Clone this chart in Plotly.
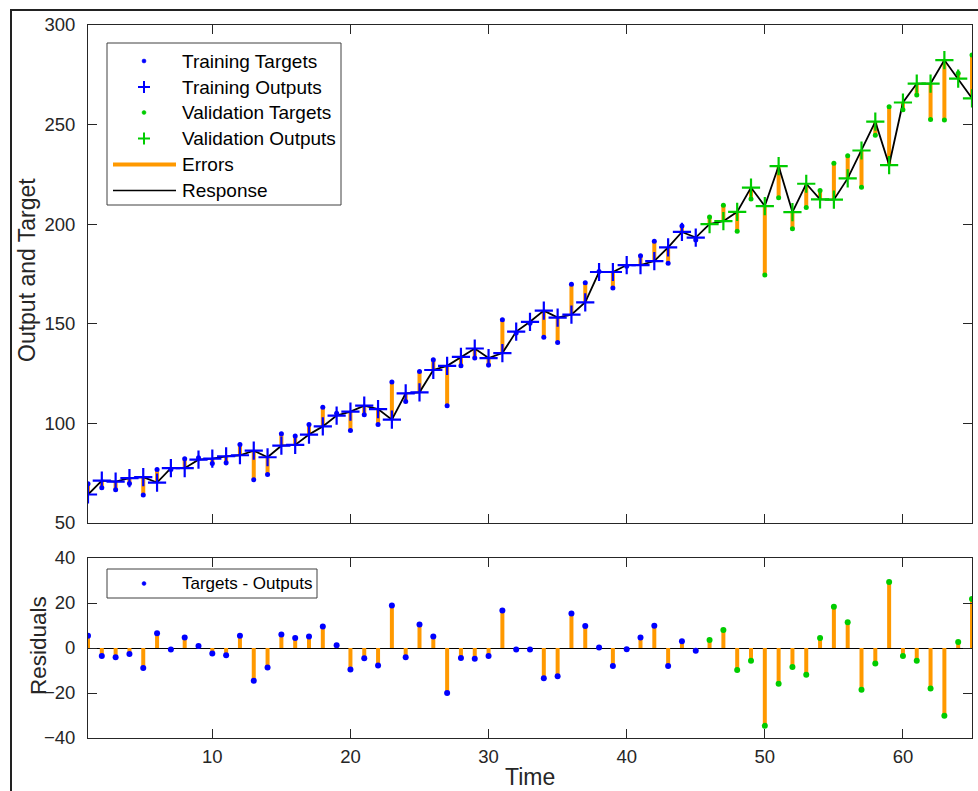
import plotly.graph_objects as go

# Time steps and network response
time = list(range(1, 66))
n_train = 45  # steps 1..45 are training, 46..65 validation

outputs = [
    64.3, 71.3, 70.8, 72.5, 73.0, 70.3, 77.5, 77.5, 81.8, 82.3,
    83.5, 84.0, 86.3, 83.0, 88.8, 89.2, 94.4, 98.5, 103.9, 105.9,
    108.9, 107.2, 101.9, 115.1, 115.6, 126.8, 128.9, 133.4, 137.6, 132.8,
    135.3, 146.1, 151.0, 156.6, 153.1, 154.6, 160.8, 176.0, 176.0, 179.5,
    179.5, 181.5, 188.4, 196.1, 193.3, 200.0, 201.5, 206.2, 218.4, 209.1,
    229.2, 206.1, 220.3, 212.5, 212.3, 223.0, 237.0, 251.5, 229.7, 261.1,
    270.6, 270.6, 282.4, 273.1, 263.2,
]
targets = [
    69.7, 67.7, 66.7, 69.8, 64.1, 76.9, 76.8, 82.2, 82.7, 79.9,
    80.3, 89.4, 71.7, 74.3, 94.8, 93.7, 99.5, 108.1, 105.1, 96.4,
    104.4, 99.4, 120.8, 111.0, 126.0, 131.9, 108.9, 129.0, 132.8, 129.3,
    152.0, 145.4, 150.3, 143.2, 140.6, 169.9, 170.6, 176.2, 168.0, 178.9,
    184.2, 191.4, 180.4, 199.1, 192.1, 203.6, 209.5, 196.4, 212.7, 174.5,
    213.3, 197.7, 208.4, 216.9, 230.6, 234.4, 218.5, 244.6, 259.0, 257.5,
    264.9, 252.6, 252.3, 275.8, 285.0,
]
residuals = [tg - o for tg, o in zip(targets, outputs)]

x_ticks = [10, 20, 30, 40, 50, 60]
y_ticks_top = [50, 100, 150, 200, 250, 300]
y_ticks_bot = [-40, -20, 0, 20, 40]

legend_top = ["Training Targets", "Training Outputs", "Validation Targets",
              "Validation Outputs", "Errors", "Response"]
legend_bot = ["Targets - Outputs"]

BLUE = "#0000FF"
GREEN = "#00CC00"
ORANGE = "#FF9900"
AX = "#262626"
FONT = "Liberation Sans, Arial, sans-serif"

W, H = 978, 791
ML, MR, MT, MB = 88, 6, 25, 53
PW, PH = W - ML - MR, H - MT - MB


def px_x(p):
    return (p - ML) / PW


def px_y(p):
    return (H - MB - p) / PH


TOP_DOM = [px_y(523), 1.0]
BOT_DOM = [0.0, px_y(558)]


def segments(xs, y0s, y1s):
    sx, sy = [], []
    for x, a, b in zip(xs, y0s, y1s):
        sx += [x, x, None]
        sy += [a, b, None]
    return sx, sy


fig = go.Figure()

t_tr, t_va = time[:n_train], time[n_train:]

# --- upper panel: outputs vs targets ---
ex, ey = segments(time, outputs, targets)
fig.add_trace(go.Scatter(x=ex, y=ey, mode="lines", name="Errors",
                         line=dict(color=ORANGE, width=4),
                         xaxis="x", yaxis="y"))
fig.add_trace(go.Scatter(x=time, y=outputs, mode="lines", name="Response",
                         line=dict(color="black", width=1.8),
                         xaxis="x", yaxis="y"))
fig.add_trace(go.Scatter(x=t_tr, y=targets[:n_train], mode="markers",
                         name="Training Targets",
                         marker=dict(color=BLUE, size=5),
                         xaxis="x", yaxis="y"))
fig.add_trace(go.Scatter(x=t_va, y=targets[n_train:], mode="markers",
                         name="Validation Targets",
                         marker=dict(color=GREEN, size=5),
                         xaxis="x", yaxis="y"))
fig.add_trace(go.Scatter(x=t_tr, y=outputs[:n_train], mode="markers",
                         name="Training Outputs",
                         marker=dict(symbol="cross-thin", size=13,
                                     line=dict(color=BLUE, width=2.2)),
                         xaxis="x", yaxis="y"))
fig.add_trace(go.Scatter(x=t_va, y=outputs[n_train:], mode="markers",
                         name="Validation Outputs",
                         marker=dict(symbol="cross-thin", size=13,
                                     line=dict(color=GREEN, width=2.2)),
                         xaxis="x", yaxis="y"))

# --- lower panel: residuals ---
rx, ry = segments(time, [0] * len(time), residuals)
fig.add_trace(go.Scatter(x=rx, y=ry, mode="lines", name="Residual bars",
                         line=dict(color=ORANGE, width=4),
                         xaxis="x2", yaxis="y2"))
fig.add_trace(go.Scatter(x=t_tr, y=residuals[:n_train], mode="markers",
                         name="Targets - Outputs",
                         marker=dict(color=BLUE, size=6),
                         xaxis="x2", yaxis="y2"))
fig.add_trace(go.Scatter(x=t_va, y=residuals[n_train:], mode="markers",
                         name="Targets - Outputs (validation)",
                         marker=dict(color=GREEN, size=6),
                         xaxis="x2", yaxis="y2"))

axis_common = dict(
    showgrid=False, showline=True, linecolor=AX, linewidth=1,
    mirror="ticks", ticks="inside", ticklen=9, tickwidth=1, tickcolor=AX,
    tickfont=dict(family=FONT, size=18.5, color=AX), zeroline=False,
)

fig.update_layout(
    width=W, height=H,
    margin=dict(l=ML, r=MR, t=MT, b=MB),
    paper_bgcolor="white", plot_bgcolor="white",
    font=dict(family=FONT, color=AX),
    showlegend=False,
    xaxis=dict(axis_common, domain=[0, 1], range=[1, 65], tickvals=x_ticks,
               showticklabels=False, anchor="y"),
    yaxis=dict(axis_common, domain=TOP_DOM, range=[50, 300],
               tickvals=y_ticks_top, anchor="x", ticklabelstandoff=8),
    xaxis2=dict(axis_common, domain=[0, 1], range=[1, 65], tickvals=x_ticks,
                anchor="y2", ticklabelstandoff=2),
    yaxis2=dict(axis_common, domain=BOT_DOM, range=[-40, 40],
                tickvals=y_ticks_bot, anchor="x2", ticklabelstandoff=8,
                zeroline=True, zerolinecolor="black", zerolinewidth=1.2),
)


def pshape(**kw):
    fig.add_shape(xref="paper", yref="paper", layer="above", **kw)


def legend_box(x0, y0, x1, y1):
    pshape(type="rect", x0=px_x(x0), x1=px_x(x1), y0=px_y(y0), y1=px_y(y1),
           line=dict(color="#404040", width=1), fillcolor="white")


def legend_dot(cx, cy, color, r=2):
    pshape(type="circle", x0=px_x(cx - r), x1=px_x(cx + r),
           y0=px_y(cy - r), y1=px_y(cy + r),
           line=dict(color=color, width=0.5), fillcolor=color)


def legend_plus(cx, cy, color, a=6):
    pshape(type="line", x0=px_x(cx - a), x1=px_x(cx + a), y0=px_y(cy), y1=px_y(cy),
           line=dict(color=color, width=2))
    pshape(type="line", x0=px_x(cx), x1=px_x(cx), y0=px_y(cy - a), y1=px_y(cy + a),
           line=dict(color=color, width=2))


def legend_line(cy, color, width):
    pshape(type="line", x0=px_x(113), x1=px_x(176), y0=px_y(cy), y1=px_y(cy),
           line=dict(color=color, width=width))


def legend_text(text, cy, size):
    fig.add_annotation(text=text, xref="paper", yref="paper",
                       x=px_x(180), y=px_y(cy), xanchor="left", yanchor="middle",
                       showarrow=False, font=dict(family=FONT, size=size, color="black"))


# legend for the upper panel
legend_box(107, 43, 341, 205)
rows = [61, 87, 112.5, 138.5, 164.5, 190.5]
legend_dot(144, rows[0], BLUE)
legend_plus(144, rows[1], BLUE)
legend_dot(144, rows[2], GREEN)
legend_plus(144, rows[3], GREEN)
legend_line(rows[4], ORANGE, 4)
legend_line(rows[5], "black", 1.5)
for label, cy in zip(legend_top, rows):
    legend_text(label, cy, 19)

# legend for the lower panel
legend_box(107, 569, 317, 598)
legend_dot(144, 583.5, BLUE)
legend_text(legend_bot[0], 583.5, 17)

# axis titles
fig.add_annotation(text="Output and Target", xref="paper", yref="paper",
                   x=px_x(27), y=px_y(270), textangle=-90, showarrow=False,
                   xanchor="center", yanchor="middle",
                   font=dict(family=FONT, size=23, color=AX))
fig.add_annotation(text="Residuals", xref="paper", yref="paper",
                   x=px_x(38), y=px_y(646), textangle=-90, showarrow=False,
                   xanchor="center", yanchor="middle",
                   font=dict(family=FONT, size=22.5, color=AX))
fig.add_annotation(text="Time", xref="paper", yref="paper",
                   x=px_x(530), y=px_y(777), showarrow=False,
                   xanchor="center", yanchor="middle",
                   font=dict(family=FONT, size=23, color=AX))

# outer figure frame (left and top edges)
pshape(type="path",
       path=f"M {px_x(11)} {px_y(795)} L {px_x(11)} {px_y(10)} L {px_x(982)} {px_y(10)}",
       line=dict(color="#222222", width=2))

fig.write_html("out.html")
